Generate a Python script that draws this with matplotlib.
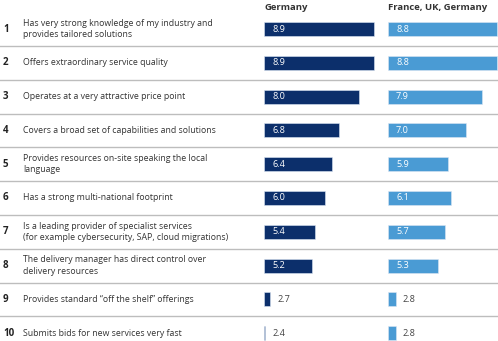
import matplotlib
matplotlib.use("Agg")
import matplotlib.pyplot as plt

plt.rcParams['font.family'] = ['Open Sans', 'DejaVu Sans']

# data
ranks = ["1", "2", "3", "4", "5", "6", "7", "8", "9", "10"]
labels = [
    "Has very strong knowledge of my industry and\nprovides tailored solutions",
    "Offers extraordinary service quality",
    "Operates at a very attractive price point",
    "Covers a broad set of capabilities and solutions",
    "Provides resources on-site speaking the local\nlanguage",
    "Has a strong multi-national footprint",
    "Is a leading provider of specialist services\n(for example cybersecurity, SAP, cloud migrations)",
    "The delivery manager has direct control over\ndelivery resources",
    "Provides standard \u201coff the shelf\u201d offerings",
    "Submits bids for new services very fast",
]
germany = [8.9, 8.9, 8.0, 6.8, 6.4, 6.0, 5.4, 5.2, 2.7, 2.4]
fr_uk_de = [8.8, 8.8, 7.9, 7.0, 5.9, 6.1, 5.7, 5.3, 2.8, 2.8]
headers = ["Germany", "France, UK, Germany"]

W, H = 498, 341
fig = plt.figure(figsize=(W / 100, H / 100), dpi=100)

# row layout (pixels)
row0, step = 29, 33.8
ylim = ((H - row0) / step, -row0 / step)

bg = fig.add_axes([0, 0, 1, 1])
bg.set_xlim(0, W)
bg.set_ylim(*ylim)
bg.axis('off')

text_col = '#333333'
for i in range(len(ranks)):
    bg.text(3, i, ranks[i], fontsize=7, fontweight='bold', color='#222222',
            va='center', ha='left')
    bg.text(23, i, labels[i], fontsize=6.35, color=text_col, va='center',
            ha='left', linespacing=1.35)
    if i < len(ranks) - 1:
        bg.axhline(i + 0.5, color='#bdbdbd', lw=1)

scale = 16.8  # px per unit
panels = [
    (264, 116, 2.34, germany, '#0c2f6b', headers[0]),
    (388, 110, 2.33, fr_uk_de, '#4a9bd4', headers[1]),
]
for left, width, base, vals, col, head in panels:
    ax = fig.add_axes([left / W, 0, width / W, 1])
    ax.set_xlim(base, base + width / scale)
    ax.set_ylim(*ylim)
    ax.axis('off')
    ax.barh(range(len(vals)), [v - base for v in vals], left=base,
            height=0.42, color=col, edgecolor='#dbe6f3', linewidth=0.4)
    ax.text(base, -0.65, head, fontsize=6.8, fontweight='bold',
            color='#333333', va='center', ha='left')
    for i, v in enumerate(vals):
        if v > 4:
            ax.text(base + 8 / scale, i, f"{v:.1f}", color='white',
                    fontsize=6.6, va='center', ha='left')
        else:
            ax.text(v + 7 / scale, i, f"{v:.1f}", color='#444444',
                    fontsize=6.6, va='center', ha='left')

fig.savefig("out.png", dpi=100)
plt.close()
